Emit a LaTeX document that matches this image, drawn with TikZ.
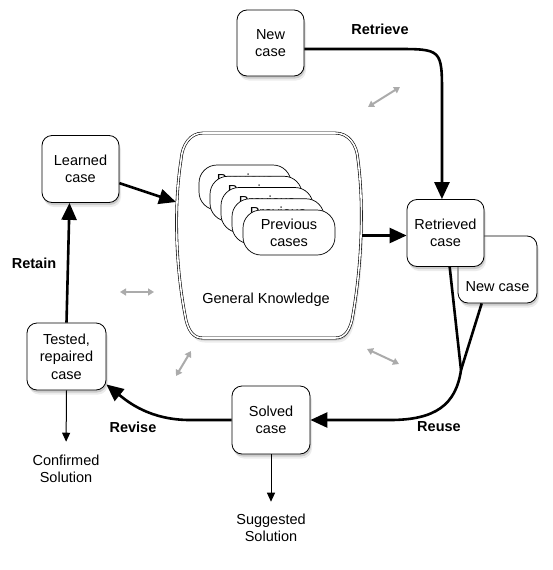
\documentclass[tikz,border=0pt]{standalone}
\usepackage{fontspec}
\setmainfont{Liberation Sans}
\usepackage{tikz}
\usetikzlibrary{arrows.meta,shadows}
\definecolor{SoftGray}{HTML}{ABABAB}
\tikzset{
  softshadow/.style={
    drop shadow={shadow xshift=2pt,shadow yshift=-4.5pt,opacity=0.15},
    drop shadow={shadow xshift=1pt,shadow yshift=-2.5pt,opacity=0.3}},
  casenode/.style={draw=black,fill=white,rounded corners=10pt,line width=0.8pt,
    minimum width=77pt,minimum height=67pt,align=center,inner sep=3pt,
    font=\fontsize{14.5}{17.5}\selectfont,softshadow},
  prevnode/.style={draw=black,fill=white,rounded corners=18pt,line width=0.7pt,
    minimum width=92pt,minimum height=45pt,align=center,inner sep=2pt,
    font=\fontsize{14.5}{17}\selectfont},
  phasenode/.style={font=\fontsize{14.5}{17.5}\selectfont\bfseries,inner sep=2pt},
  solnode/.style={font=\fontsize{14.5}{17.5}\selectfont,align=center,inner sep=2pt},
  gkshape/.style={draw=black,fill=white,line width=0.6pt,double=white,double distance=1.6pt,
    softshadow},
  edgeT/.style={line width=2.6pt,draw=black,-{Triangle[length=17pt,width=15pt]}},
  edgeL/.style={line width=2.6pt,draw=black},
  edgeN/.style={line width=1pt,draw=black,-{Triangle[length=9pt,width=8pt]}},
  edgeG/.style={line width=2pt,draw=SoftGray,
    {Triangle[length=6pt,width=7pt]}-{Triangle[length=6pt,width=7pt]}},
}

\begin{document}
\begin{tikzpicture}[x=1pt,y=1pt]
  \useasboundingbox (0,0) rectangle (552,-570);
  % knowledge store
  \draw[gkshape] (203,-133) -- (335,-133)
    .. controls (349,-133) and (357,-145) .. (358,-160)
    .. controls (364,-205) and (362,-265) .. (352,-320)
    .. controls (349,-332) and (344,-338) .. (335,-338) -- (203,-338)
    .. controls (194,-338) and (189,-332) .. (186,-320)
    .. controls (175,-265) and (174,-205) .. (181,-160)
    .. controls (182,-145) and (190,-133) .. (203,-133) -- cycle;
  \node[minimum width=185pt,minimum height=205pt,inner sep=0pt] (gk) at (269.5,-235.5) {};
  \foreach \k in {0,...,4}
    \node[prevnode] (prev\k) at ({245+11*\k},{-187.5-11.25*\k}) {Previous\\cases};
  \node[solnode] (gktext) at (266,-300) {General Knowledge};
  \coordinate (gkin) at (176,-202);

  % cases
  \node[casenode,minimum width=67pt,minimum height=66pt] (newcase) at (270.5,-43) {New\\case};
  \node[casenode,minimum width=79pt,text height=47pt,text depth=4pt,inner ysep=8pt] (newcase2) at (497.5,-269.5) {New case};
  \node[casenode] (retrieved) at (445.5,-233) {Retrieved\\case};
  \node[casenode] (learned) at (80.5,-169) {Learned\\case};
  \node[casenode,minimum width=79pt] (tested) at (66.5,-356.5) {Tested,\\repaired\\case};
  \node[casenode,minimum width=78pt,minimum height=68pt] (solved) at (271,-420) {Solved\\case};
  \node[solnode] (confirmed) at (66,-469) {Confirmed\\Solution};
  \node[solnode] (suggested) at (271,-528) {Suggested\\Solution};

  % phase labels
  \node[phasenode] (retrieve) at (380,-29) {Retrieve};
  \node[phasenode] (retain) at (34,-263) {Retain};
  \node[phasenode] (revise) at (133,-427) {Revise};
  \node[phasenode] (reuse) at (439,-427) {Reuse};

  % cycle
  \coordinate (merge) at (461,-370);
  \draw[edgeT] (newcase.-10) -- (395,-49) .. controls (442,-49) .. (442,-95) -- (retrieved.96);
  \draw[edgeT] (gk.east) -- (gk.east -| retrieved.west);
  \draw[edgeL] (retrieved.-83) -- (merge);
  \draw[edgeL] (newcase2.-115) -- (merge);
  \draw[edgeT] (merge) .. controls (456,-405) and (435,-420) .. (390,-420) -- (solved.east);
  \draw[edgeT] (solved.west) -- (190,-420) .. controls (150,-420) and (128,-402) .. (tested.-35);
  \draw[edgeT] (tested.north) -- (learned.252);
  \draw[edgeT] (learned.-20) -- (gkin);
  \draw[edgeN,shorten >=11pt] (tested.south) -- (confirmed.north);
  \draw[edgeN,shorten >=10pt] (solved.south) -- (suggested.north);

  % links with general knowledge
  \foreach \a/\b in {{(368,-107)}/{(400,-87)}, {(120,-292)}/{(154,-292)},
                     {(176,-376)}/{(191,-351)}, {(367,-349)}/{(399,-364)}}
    \draw[edgeG] \a -- \b;
\end{tikzpicture}
\end{document}
